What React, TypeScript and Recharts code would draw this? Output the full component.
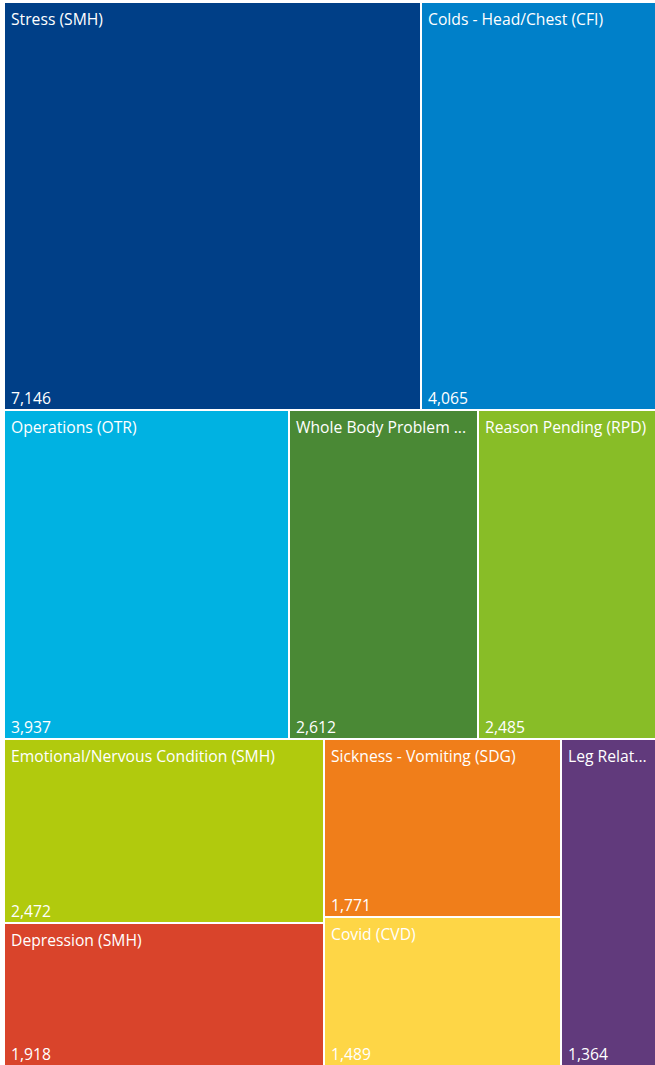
import React from 'react';
import { Treemap } from 'recharts';

// absence reasons, in layout order (labels as shown on the tiles)
const reasons = [
  'Stress (SMH)',
  'Colds - Head/Chest (CFI)',
  'Operations (OTR)',
  'Whole Body Problem ...',
  'Reason Pending (RPD)',
  'Emotional/Nervous Condition (SMH)',
  'Depression (SMH)',
  'Sickness - Vomiting (SDG)',
  'Covid (CVD)',
  'Leg Relat...',
];
const counts = [7146, 4065, 3937, 2612, 2485, 2472, 1918, 1771, 1489, 1364];
const colors = [
  '#003f87',
  '#0080c9',
  '#00b2e2',
  '#4a8935',
  '#88bd27',
  '#b1ca0d',
  '#d9442b',
  '#f07e1a',
  '#fed646',
  '#613a7c',
];

const data = reasons.map((name, i) => ({ name, size: counts[i], fill: colors[i] }));

const FONT = '"Segoe UI", "Open Sans", sans-serif';

function Tile(props: any) {
  const { x, y, width, height, name, value, depth, fill } = props;
  if (depth !== 1) return null;
  const w = Math.max(0, width - 2);
  const h = Math.max(0, height - 2);
  return (
    <g>
      <rect x={x} y={y} width={w} height={h} fill={fill} stroke="none" />
      <text x={x + 6} y={y + 22} fill="#fff" fontSize={15.7} fontFamily={FONT} stroke="none">
        {name}
      </text>
      <text x={x + 6} y={y + h - 5} fill="#fff" fontSize={15.7} fontFamily={FONT} stroke="none">
        {Number(value).toLocaleString('en-US')}
      </text>
    </g>
  );
}

export default function App() {
  return (
    <div style={{ position: 'absolute', left: 0, top: 0, width: 655, height: 1065, overflow: 'hidden' }}>
      <div style={{ position: 'absolute', left: 5, top: 3 }}>
        <Treemap
          width={655}
          height={1064}
          data={data}
          dataKey="size"
          nameKey="name"
          stroke="#fff"
          content={<Tile />}
          isAnimationActive={false}
        />
      </div>
    </div>
  );
}
